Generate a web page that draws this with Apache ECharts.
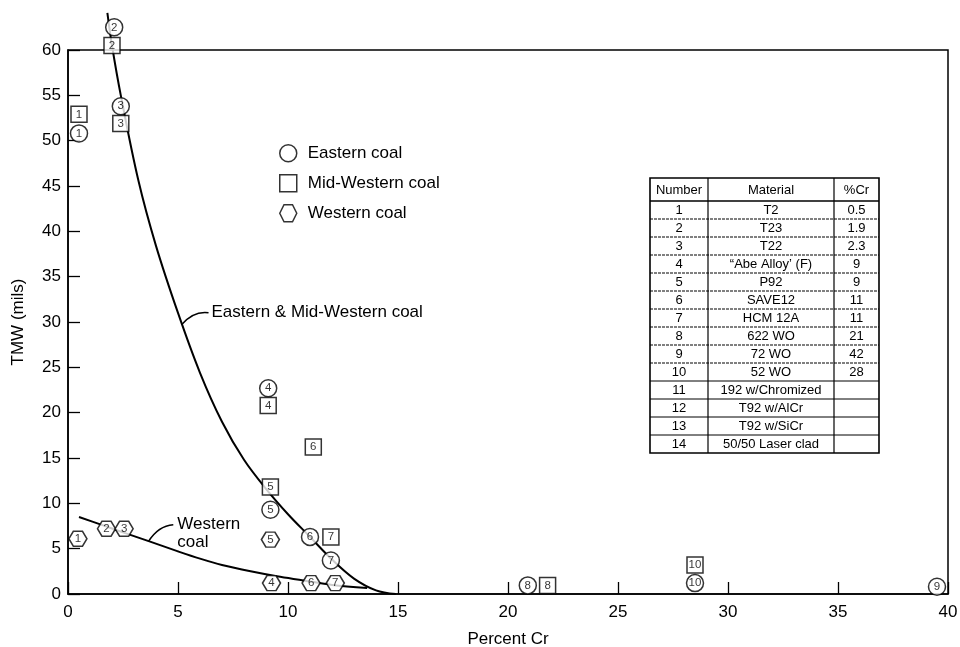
<!DOCTYPE html>
<html><head><meta charset="utf-8">
<script src="https://cdn.jsdelivr.net/npm/echarts@6/dist/echarts.min.js"></script>
<style>html,body{margin:0;padding:0;background:#fff}#c{width:960px;height:647px}</style>
</head><body><div id="c"></div>
<script>
// ---- data ----
const xTicks = [0, 5, 10, 15, 20, 25, 30, 35, 40];
const yTicks = [0, 5, 10, 15, 20, 25, 30, 35, 40, 45, 50, 55, 60];
// [percent Cr, TMW (mils), material number]
const easternPoints = [[0.5,50.8,'1'],[2.1,62.5,'2'],[2.4,53.8,'3'],[9.1,22.7,'4'],[9.2,9.3,'5'],[11.0,6.3,'6'],[11.95,3.7,'7'],[20.9,0.95,'8'],[39.5,0.8,'9'],[28.5,1.2,'10']];
const midWesternPoints = [[0.5,52.9,'1'],[2.0,60.5,'2'],[2.4,51.9,'3'],[9.1,20.8,'4'],[9.2,11.8,'5'],[11.15,16.2,'6'],[11.95,6.3,'7'],[21.8,0.95,'8'],[28.5,3.2,'10']];
const westernPoints = [[0.45,6.1,'1'],[1.75,7.2,'2'],[2.55,7.2,'3'],[9.25,1.2,'4'],[9.2,6.0,'5'],[11.05,1.2,'6'],[12.15,1.2,'7']];
const easternCurve = [[1.79,64.1],[2.0,60.5],[2.4,55.0],[3.2,45.6],[4.0,38.4],[5.0,31.0],[6.0,24.4],[7.0,19.0],[8.0,14.8],[9.0,11.6],[10.0,8.8],[11.0,6.3],[12.0,3.8],[13.0,1.7],[14.0,0.4],[14.9,0.0]];
const westernCurve = [[0.5,8.5],[1.5,7.65],[2.5,6.8],[3.7,5.8],[5.0,4.7],[6.0,3.9],[7.0,3.2],[8.3,2.5],[9.5,1.95],[10.7,1.5],[12.0,1.0],[13.6,0.65]];
const legendNames = ['Eastern coal', 'Mid-Western coal', 'Western coal'];
const curveLabels = ['Eastern & Mid-Western coal', 'Western\ncoal'];
const curveLabelAnchors = [[5.16, 29.7], [3.65, 5.77]];
const tableHeader = ['Number', 'Material', '%Cr'];
const tableNumbers = ['1','2','3','4','5','6','7','8','9','10','11','12','13','14'];
const tableMaterials = ['T2','T23','T22','\u201CAbe Alloy\u2019 (F)','P92','SAVE12','HCM 12A','622 WO','72 WO','52 WO','192 w/Chromized','T92 w/AlCr','T92 w/SiCr','50/50 Laser clad'];
const tableCr = ['0.5','1.9','2.3','9','9','11','11','21','42','28','','','',''];

// ---- chart ----
const FONT = 'Liberation Sans, Arial, Helvetica, sans-serif';
const HEX = 'path://M0,50 L25,0 L75,0 L100,50 L75,100 L25,100 Z';
const markerStyle = {color: '#fff', borderColor: '#000', borderWidth: 1.5};
const markerLabel = {show: true, position: 'inside', color: '#000', fontSize: 11.5, fontFamily: FONT,
  formatter: p => p.data[2]};

const chart = echarts.init(document.getElementById('c'), null, {renderer: 'canvas'});
const option = {
  backgroundColor: '#fff',
  animation: false,
  textStyle: {fontFamily: FONT, color: '#000'},
  grid: {left: 68, right: 12, top: 50, bottom: 53, show: true, borderColor: '#000', borderWidth: 1.5,
    containLabel: false, outerBoundsMode: 'none'},
  legend: {
    orient: 'vertical', left: 279, top: 144, itemWidth: 17, itemHeight: 17, itemGap: 11.5, padding: 0,
    data: [
      {name: legendNames[0], icon: 'circle'},
      {name: legendNames[1], icon: 'rect'},
      {name: legendNames[2], icon: HEX}
    ],
    itemStyle: markerStyle,
    textStyle: {fontSize: 17, color: '#000', fontFamily: FONT, padding: [0, 0, 0, 6]},
    selectedMode: false
  },
  xAxis: {
    type: 'value', min: xTicks[0], max: xTicks[xTicks.length - 1], interval: 5,
    name: 'Percent Cr', nameLocation: 'middle', nameGap: 37,
    nameTextStyle: {fontSize: 17, color: '#000', fontFamily: FONT},
    axisLine: {onZero: false, lineStyle: {color: '#000', width: 1.5}},
    axisTick: {inside: true, length: 12, lineStyle: {color: '#000', width: 1.3}},
    axisLabel: {fontSize: 17, color: '#000', margin: 10, fontFamily: FONT},
    splitLine: {show: false}
  },
  yAxis: {
    type: 'value', min: yTicks[0], max: yTicks[yTicks.length - 1], interval: 5,
    name: 'TMW (mils)', nameLocation: 'middle', nameGap: 41,
    nameTextStyle: {fontSize: 17, color: '#000', fontFamily: FONT},
    axisLine: {onZero: false, lineStyle: {color: '#000', width: 1.5}},
    axisTick: {inside: true, length: 12, lineStyle: {color: '#000', width: 1.3}},
    axisLabel: {fontSize: 17, color: '#000', margin: 7, fontFamily: FONT},
    splitLine: {show: false}
  },
  series: [
    {type: 'line', name: 'Eastern & Mid-Western curve', data: easternCurve, smooth: 0.35, showSymbol: false,
      clip: false, silent: true, z: 1, lineStyle: {color: '#000', width: 2}},
    {type: 'line', name: 'Western curve', data: westernCurve, smooth: 0.35, showSymbol: false,
      clip: false, silent: true, z: 1, lineStyle: {color: '#000', width: 2}},
    {type: 'scatter', name: legendNames[0], data: easternPoints, symbol: 'circle', symbolSize: 17,
      clip: false, z: 3, itemStyle: markerStyle, label: markerLabel},
    {type: 'scatter', name: legendNames[1], data: midWesternPoints, symbol: 'rect', symbolSize: 16,
      clip: false, z: 3, itemStyle: markerStyle, label: markerLabel},
    {type: 'scatter', name: legendNames[2], data: westernPoints, symbol: HEX, symbolSize: [18, 15],
      clip: false, z: 3, itemStyle: markerStyle, label: markerLabel}
  ]
};
chart.setOption(option);

// ---- annotations (leader lines + curve names) and material table ----
const graphics = [];
const pE = chart.convertToPixel({gridIndex: 0}, curveLabelAnchors[0]);
graphics.push({type: 'bezierCurve', z: 10, shape: {x1: pE[0], y1: pE[1], cpx1: pE[0] + 12, cpy1: pE[1] - 14, x2: pE[0] + 27, y2: pE[1] - 12},
  style: {stroke: '#000', lineWidth: 1.5, fill: null}});
graphics.push({type: 'text', z: 10, x: pE[0] + 30, y: pE[1] - 12,
  style: {text: curveLabels[0], font: '17px ' + FONT, fill: '#000', textVerticalAlign: 'middle', verticalAlign: 'middle'}});
const pW = chart.convertToPixel({gridIndex: 0}, curveLabelAnchors[1]);
graphics.push({type: 'bezierCurve', z: 10, shape: {x1: pW[0], y1: pW[1], cpx1: pW[0] + 10, cpy1: pW[1] - 16, x2: pW[0] + 25, y2: pW[1] - 17},
  style: {stroke: '#000', lineWidth: 1.5, fill: null}});
graphics.push({type: 'text', z: 10, x: pW[0] + 29, y: pW[1] - 26,
  style: {text: curveLabels[1], font: '17px ' + FONT, fill: '#000', lineHeight: 18}});

// table layout
const tL = 650, tT = 178, colW = [58, 126, 45], headH = 23, rowH = 18;
const tW = colW[0] + colW[1] + colW[2];
const tH = headH + rowH * tableNumbers.length;
graphics.push({type: 'rect', z: 10, shape: {x: tL, y: tT, width: tW, height: tH}, style: {fill: '#fff', stroke: '#000', lineWidth: 1.6}});
let cx = tL;
for (let c = 0; c < 2; c++) {
  cx += colW[c];
  graphics.push({type: 'line', z: 11, shape: {x1: cx, y1: tT, x2: cx, y2: tT + tH}, style: {stroke: '#000', lineWidth: 1.2}});
}
for (let r = 0; r < tableNumbers.length; r++) {
  const y = tT + headH + r * rowH;
  graphics.push({type: 'line', z: 11, shape: {x1: tL, y1: y, x2: tL + tW, y2: y},
    style: {stroke: '#000', lineWidth: r === 0 ? 1.4 : 1, lineDash: (r > 0 && r < 10) ? [3, 1] : null}});
}
const colCenters = [tL + colW[0] / 2, tL + colW[0] + colW[1] / 2, tL + colW[0] + colW[1] + colW[2] / 2];
const cellText = (txt, x, y) => ({type: 'text', z: 12, x: x, y: y,
  style: {text: txt, font: '13px ' + FONT, fill: '#000', align: 'center', verticalAlign: 'middle', textAlign: 'center', textVerticalAlign: 'middle'}});
tableHeader.forEach((h, i) => graphics.push(cellText(h, colCenters[i], tT + headH / 2 + 1)));
for (let r = 0; r < tableNumbers.length; r++) {
  const y = tT + headH + r * rowH + rowH / 2 + 0.5;
  graphics.push(cellText(tableNumbers[r], colCenters[0], y));
  graphics.push(cellText(tableMaterials[r], colCenters[1], y));
  if (tableCr[r]) graphics.push(cellText(tableCr[r], colCenters[2], y));
}
chart.setOption({graphic: {elements: graphics}});
</script>
</body></html>
